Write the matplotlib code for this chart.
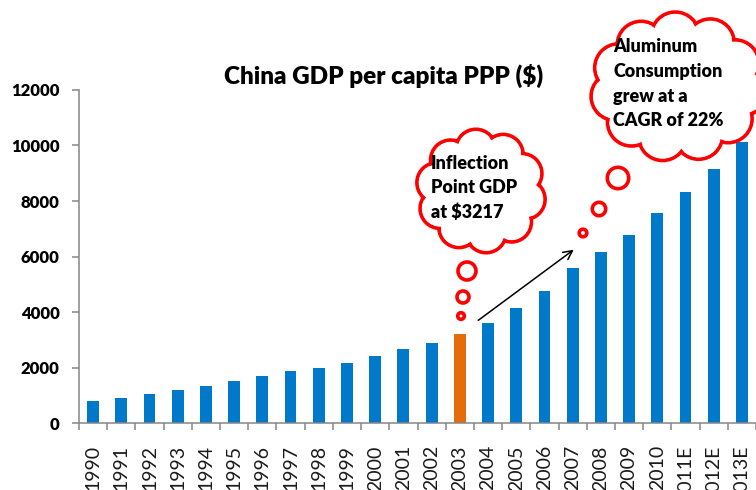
import numpy as np
import matplotlib.pyplot as plt
from matplotlib.patches import Circle, Ellipse

plt.rcParams['font.family'] = ['Lato', 'DejaVu Sans']

# data
years = ['1990', '1991', '1992', '1993', '1994', '1995', '1996', '1997',
         '1998', '1999', '2000', '2001', '2002', '2003', '2004', '2005',
         '2006', '2007', '2008', '2009', '2010', '2011E', '2012E', '2013E']
gdp_ppp = [780, 900, 1030, 1200, 1320, 1500, 1680, 1860,
           2000, 2170, 2400, 2650, 2890, 3217, 3600, 4140,
           4750, 5570, 6170, 6770, 7550, 8320, 9150, 10120]
highlight_year = '2003'
y_ticks = [0, 2000, 4000, 6000, 8000, 10000, 12000]

title = 'China GDP per capita PPP ($)'
note_inflection = ['Inflection', 'Point GDP', 'at $3217']
note_aluminum = ['Aluminum', 'Consumption', 'grew at a', 'CAGR of 22%']

BLUE = '#0079CA'
ORANGE = '#E46C0A'
RED = '#FF0000'
GREY = '#868686'

W, H = 756, 490
fig = plt.figure(figsize=(W / 100, H / 100), dpi=100)
ax = fig.add_axes([79 / W, 1 - 423 / H, 677 / W, 333 / H])

x = np.arange(len(years))
colors = [ORANGE if y == highlight_year else BLUE for y in years]
ax.bar(x, gdp_ppp, width=0.42, color=colors, zorder=2)

ax.set_xlim(-0.5, len(years) - 0.5)
ax.set_ylim(0, 12000)
ax.set_yticks(y_ticks)
ax.set_yticklabels([str(v) for v in y_ticks], fontsize=12, fontweight='heavy')

# ticks between the bars, labels under the bars
ax.set_xticks(np.arange(len(years) + 1) - 0.5)
ax.set_xticklabels([])
ax.set_xticks(x, minor=True)
ax.set_xticklabels(years, minor=True, rotation=90, fontsize=14, color='#1a1a1a')
ax.tick_params(axis='x', which='major', length=5, width=1.1, color=GREY)
ax.tick_params(axis='x', which='minor', length=0, pad=16)
ax.tick_params(axis='y', length=5, width=1.1, color=GREY, pad=9)

for side in ['top', 'right']:
    ax.spines[side].set_visible(False)
for side in ['left', 'bottom']:
    ax.spines[side].set_color(GREY)
    ax.spines[side].set_linewidth(1.1)

fig.text(384 / W, 1 - 76 / H, title, ha='center', va='center',
         fontsize=17.5, fontweight='heavy')

# overlay in pixel coordinates for the thought clouds
ov = fig.add_axes([0, 0, 1, 1], zorder=5)
ov.set_xlim(0, W)
ov.set_ylim(H, 0)
ov.axis('off')

LW = 2.6  # points
LW_PX = LW * 100 / 72


def cloud(cx, cy, a, b, r, n, offset=0.0):
    angles = np.linspace(0, 2 * np.pi, n, endpoint=False) + offset
    centers = [(cx + a * np.cos(t), cy + b * np.sin(t)) for t in angles]
    for c in centers:
        ov.add_patch(Circle(c, r, fc='white', ec=RED, lw=LW, zorder=3))
    for c in centers:
        ov.add_patch(Circle(c, r - LW_PX / 2 - 0.3, fc='white', ec='none', zorder=4))
    ov.add_patch(Ellipse((cx, cy), 2 * a, 2 * b, fc='white', ec='none', zorder=4))


def bubble(cx, cy, r):
    ov.add_patch(Circle((cx, cy), r, fc='white', ec=RED, lw=LW, zorder=3))


cloud(481, 191, 45, 42, 20, 10, 0.2)
for cx, cy, r in [(461, 316, 3.3), (463, 297, 6.0), (467, 271, 9.0)]:
    bubble(cx, cy, r)
for i, line in enumerate(note_inflection):
    ov.text(431, 163 + i * 24.5, line, ha='left', va='center',
            fontsize=13, fontweight='heavy', zorder=6)

cloud(678, 87, 64, 51, 24, 11, 0.1)
for cx, cy, r in [(583, 233, 3.8), (599, 209, 6.7), (618, 178, 10.7)]:
    bubble(cx, cy, r)
for i, line in enumerate(note_aluminum):
    ov.text(613, 47 + i * 24.5, line, ha='left', va='center',
            fontsize=13, fontweight='heavy', zorder=6)

ov.annotate('', xy=(576, 248), xytext=(476, 322),
            arrowprops=dict(arrowstyle='->', color='black', lw=1.1,
                            mutation_scale=16), zorder=6)

fig.savefig('out.png', dpi=100)
